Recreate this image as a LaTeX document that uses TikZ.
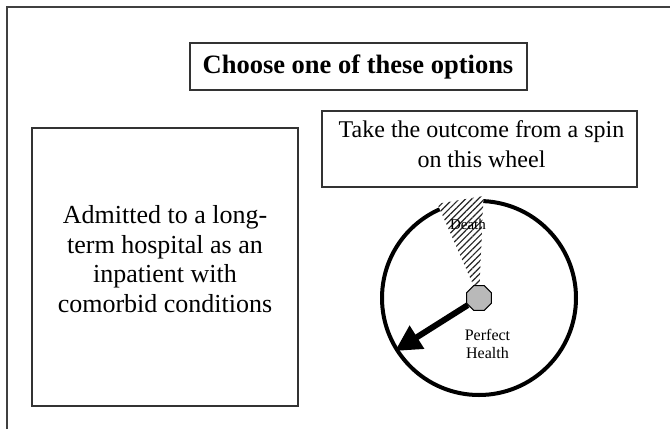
\documentclass[tikz,border=0pt]{standalone}
\usepackage{fontspec}
\setmainfont{Liberation Serif}
\usetikzlibrary{shapes.geometric,arrows.meta,patterns.meta}
\begin{document}
\begin{tikzpicture}[x=1pt,y=-1pt,
  frameline/.style={draw=black!75,line width=1.3pt},
  boxstyle/.style={draw=black!80,line width=1.3pt,rectangle,inner sep=0pt,outer sep=0pt},
  bigtext/.style={align=center,anchor=base,inner sep=0pt},
  hatch/.style={pattern={Lines[angle=45,distance=4.5pt,line width=1.2pt]},pattern color=black!85}
]
\useasboundingbox (0,0) rectangle (670,429);
% outer frame
\coordinate (fa) at (7,429);
\coordinate (fb) at (7,7);
\coordinate (fc) at (670,7);
\draw[frameline] (fa) -- (fb) -- (fc);
% boxes
\node[boxstyle,minimum width=337pt,minimum height=47pt] (titlebox) at (358.5,66.5) {};
\node[bigtext,font=\bfseries\fontsize{26.5}{30}\selectfont] (title) at (358,73) {Choose one of these options};
\node[boxstyle,minimum width=266pt,minimum height=278pt] (leftbox) at (165,267) {};
\node[bigtext,font=\fontsize{26}{29.5}\selectfont] (lefttext) at (165,312) {Admitted to a long-\\term hospital as an\\inpatient with\\comorbid conditions};
\node[boxstyle,minimum width=315pt,minimum height=76pt] (rightbox) at (479.5,149) {};
\node[bigtext,font=\fontsize{24}{30}\selectfont] (righttext) at (481.5,167) {Take the outcome from a spin\\on this wheel};
% wheel
\coordinate (c) at (479,298);
\node[circle,draw=black,line width=4pt,minimum size=194pt,inner sep=0pt] (wheel) at (c) {};
\coordinate (dl) at (437.4,203.8);
\coordinate (dr) at (483.5,196);
\fill[white] (c) -- (dl) -- (dr) -- cycle;
\fill[hatch] (c) -- (dl) -- (dr) -- cycle;
\coordinate (tip) at (395,351);
\node[regular polygon,regular polygon sides=8,draw=black,line width=1pt,fill=gray!55,minimum size=27pt,inner sep=0pt] (hub) at (c) {};
\draw[line width=6pt,-{Triangle[length=26pt,width=26pt]}] (hub) -- (tip);
\node[bigtext,font=\fontsize{15}{18}\selectfont] (death) at (468,229) {Death};
\node[bigtext,font=\fontsize{16}{18}\selectfont] (ph) at (487.5,358) {Perfect\\Health};
\end{tikzpicture}
\end{document}
